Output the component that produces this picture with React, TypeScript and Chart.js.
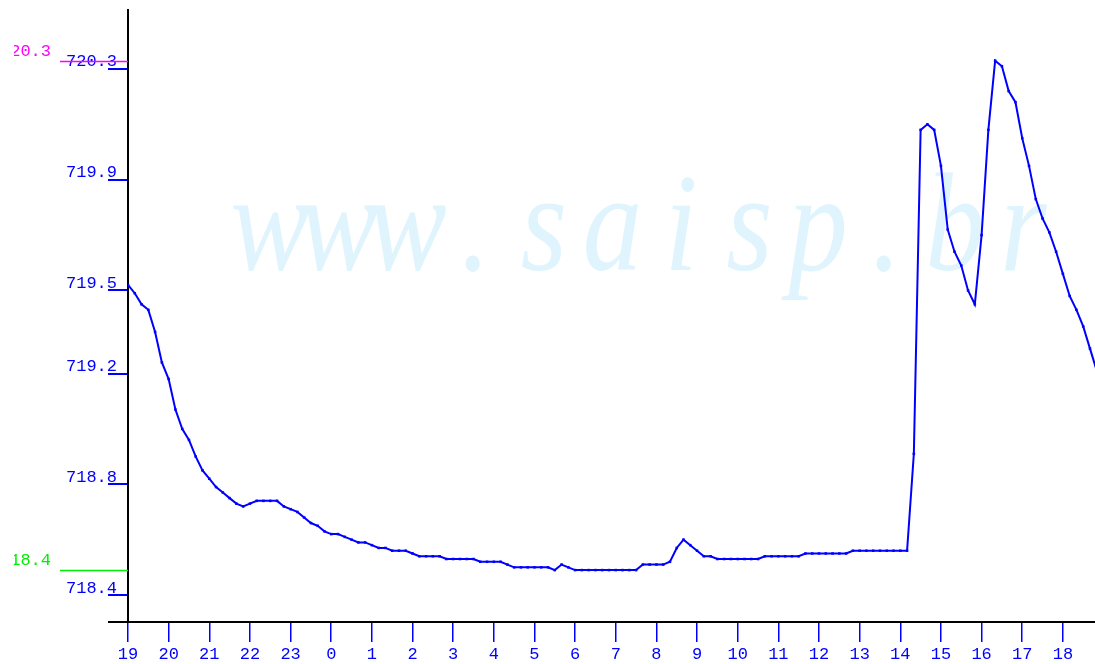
import React, { useEffect, useRef } from 'react';
import { Chart, registerables } from 'chart.js';

Chart.register(...registerables);

// time step between samples (minutes), first sample at 19:00
const stepMinutes = 10;
const xMaxHours = 23.79;

const xTickLabels = [
  '19', '20', '21', '22', '23', '0', '1', '2', '3', '4', '5', '6',
  '7', '8', '9', '10', '11', '12', '13', '14', '15', '16', '17', '18',
];

const yTickValues = [718.4, 718.8, 719.2, 719.5, 719.9, 720.3];
const yMin = 718.3025;
const yMax = 720.513;

// water level (m), every 10 minutes from 19:00
const levels = [
  719.52, 719.49, 719.45, 719.43, 719.35, 719.24, 719.18, 719.07, 719.0, 718.96,
  718.9, 718.85, 718.82, 718.79, 718.77, 718.75, 718.73, 718.72, 718.73, 718.74,
  718.74, 718.74, 718.74, 718.72, 718.71, 718.7, 718.68, 718.66, 718.65, 718.63,
  718.62, 718.62, 718.61, 718.6, 718.59, 718.59, 718.58, 718.57, 718.57, 718.56,
  718.56, 718.56, 718.55, 718.54, 718.54, 718.54, 718.54, 718.53, 718.53, 718.53,
  718.53, 718.53, 718.52, 718.52, 718.52, 718.52, 718.51, 718.5, 718.5, 718.5,
  718.5, 718.5, 718.5, 718.49, 718.51, 718.5, 718.49, 718.49, 718.49, 718.49,
  718.49, 718.49, 718.49, 718.49, 718.49, 718.49, 718.51, 718.51, 718.51, 718.51,
  718.52, 718.57, 718.6, 718.58, 718.56, 718.54, 718.54, 718.53, 718.53, 718.53,
  718.53, 718.53, 718.53, 718.53, 718.54, 718.54, 718.54, 718.54, 718.54, 718.54,
  718.55, 718.55, 718.55, 718.55, 718.55, 718.55, 718.55, 718.56, 718.56, 718.56,
  718.56, 718.56, 718.56, 718.56, 718.56, 718.56, 718.91, 720.08, 720.1, 720.08,
  719.95, 719.72, 719.64, 719.59, 719.5, 719.45, 719.7, 720.08, 720.33, 720.31,
  720.22, 720.18, 720.05, 719.95, 719.83, 719.76, 719.71, 719.64, 719.56, 719.48,
  719.43, 719.37, 719.29, 719.21,
];

const watermark = 'www.saisp.br';

const BLUE = '#0000ff';
const MONO = '"Liberation Mono", "DejaVu Sans Mono", monospace';

const truncate1 = (v: number) => (Math.floor(v * 10 + 1e-6) / 10).toFixed(1);

const extrasPlugin = {
  id: 'extras',
  beforeDatasetsDraw(chart: any) {
    const ctx = chart.ctx as CanvasRenderingContext2D;
    ctx.save();
    ctx.fillStyle = '#e0f4fd';
    ctx.font = 'italic 140px "Liberation Serif", "DejaVu Serif", serif';
    ctx.textAlign = 'center';
    ctx.textBaseline = 'alphabetic';
    for (let i = 0; i < watermark.length; i++) {
      const cx = 270 + 68.5 * i;
      ctx.save();
      ctx.translate(cx, 270);
      ctx.scale(0.85, 1);
      ctx.fillText(watermark[i], 0, 0);
      ctx.restore();
    }
    ctx.restore();
  },
  afterDraw(chart: any) {
    const ctx = chart.ctx as CanvasRenderingContext2D;
    const ys = chart.scales.y;
    const area = chart.chartArea;
    const maxV = Math.max(...levels);
    const minV = Math.min(...levels);
    ctx.save();
    // x-axis extension to the left
    ctx.strokeStyle = '#000';
    ctx.lineWidth = 2;
    ctx.beginPath();
    ctx.moveTo(108, area.bottom);
    ctx.lineTo(area.left, area.bottom);
    ctx.stroke();

    const refs = [
      { v: maxV, color: '#ff00ff' },
      { v: minV, color: '#00ee00' },
    ];
    for (const r of refs) {
      const y = Math.round(ys.getPixelForValue(r.v)) + 0.5;
      ctx.strokeStyle = r.color;
      ctx.lineWidth = 1.5;
      ctx.beginPath();
      ctx.moveTo(60, y);
      ctx.lineTo(area.left, y);
      ctx.stroke();
      ctx.save();
      ctx.beginPath();
      ctx.rect(14, 0, 200, chart.height);
      ctx.clip();
      ctx.fillStyle = r.color;
      ctx.font = `17px ${MONO}`;
      ctx.textAlign = 'right';
      ctx.textBaseline = 'middle';
      ctx.fillText(truncate1(r.v), 51, y - 10);
      ctx.restore();
    }
    ctx.restore();
  },
};

export default function App() {
  const canvasRef = useRef<HTMLCanvasElement | null>(null);

  useEffect(() => {
    document.body.style.margin = '0';
    const canvas = canvasRef.current;
    if (!canvas) return;
    const data = levels.map((v, i) => ({ x: (i * stepMinutes) / 60, y: v }));
    const chart = new Chart(canvas, {
      type: 'line',
      data: {
        datasets: [
          {
            data,
            borderColor: BLUE,
            backgroundColor: BLUE,
            borderWidth: 2,
            pointStyle: 'rect',
            pointRadius: 1.8,
            pointBorderWidth: 0,
            tension: 0,
          },
        ],
      },
      options: {
        animation: false,
        responsive: false,
        devicePixelRatio: 1,
        layout: { autoPadding: false, padding: { top: 10, left: 0, right: 0, bottom: 0 } },
        plugins: { legend: { display: false }, tooltip: { enabled: false } },
        scales: {
          x: {
            type: 'linear',
            position: 'bottom',
            min: 0,
            max: xMaxHours,
            afterBuildTicks: (s: any) => {
              s.ticks = xTickLabels.map((_, i) => ({ value: i }));
            },
            afterFit: (s: any) => {
              s.height = 42;
              s.paddingLeft = 0;
              s.paddingRight = 0;
            },
            ticks: {
              autoSkip: false,
              maxRotation: 0,
              color: BLUE,
              padding: 2,
              font: { family: MONO, size: 17 },
              callback: (v: any) => xTickLabels[Math.round(Number(v))] ?? '',
            },
            grid: {
              drawOnChartArea: false,
              drawTicks: true,
              tickLength: 20,
              color: BLUE,
              lineWidth: 1.5,
            },
            border: { color: '#000', width: 2 },
          },
          y: {
            type: 'linear',
            position: 'left',
            min: yMin,
            max: yMax,
            afterBuildTicks: (s: any) => {
              s.ticks = yTickValues.map((v) => ({ value: v }));
            },
            afterFit: (s: any) => {
              s.width = 128;
              s.paddingTop = 0;
              s.paddingBottom = 0;
            },
            ticks: {
              color: BLUE,
              padding: -9,
              labelOffset: -7,
              font: { family: MONO, size: 17 },
              callback: (v: any) => Number(v).toFixed(1),
            },
            grid: {
              drawOnChartArea: false,
              drawTicks: true,
              tickLength: 20,
              color: BLUE,
              lineWidth: 2,
            },
            border: { color: '#000', width: 2 },
          },
        },
      },
      plugins: [extrasPlugin],
    });
    return () => chart.destroy();
  }, []);

  return (
    <div style={{ width: 1095, height: 664 }}>
      <canvas ref={canvasRef} width={1095} height={664} style={{ display: 'block' }} />
    </div>
  );
}
